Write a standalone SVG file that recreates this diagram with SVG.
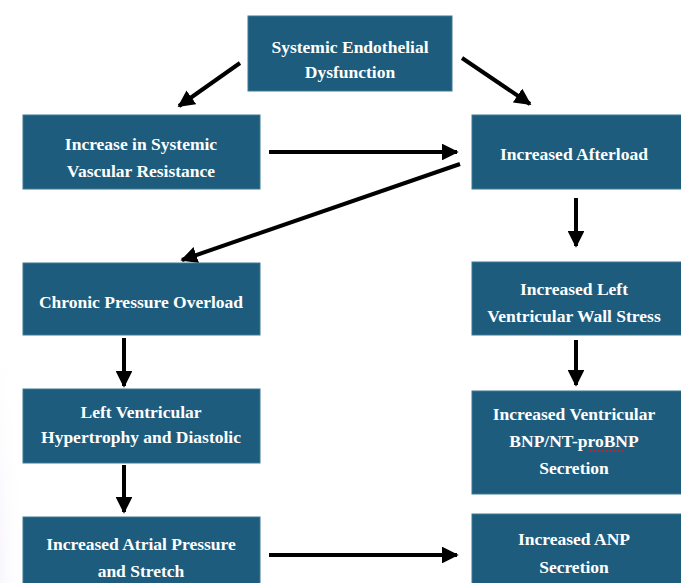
<svg xmlns="http://www.w3.org/2000/svg" width="681" height="583" viewBox="0 0 681 583">
<defs>
<style>
.box{fill:#1d5c7c;stroke:#3f7892;stroke-width:1}
.t{font-family:"Liberation Serif","Times New Roman",serif;font-weight:bold;font-size:17.5px;fill:#ffffff;text-anchor:middle}
.c{stroke:#000;stroke-width:4;fill:none;marker-end:url(#ah)}
</style>
<marker id="ah" viewBox="0 0 10 10" refX="9" refY="5" markerWidth="4.2" markerHeight="4.2" orient="auto" markerUnits="strokeWidth">
<path d="M0,0 L10,5 L0,10 Z" fill="#000"/>
</marker>
<radialGradient id="bg" cx="0" cy="0.75" r="1" gradientTransform="translate(0,0.75) scale(1,1) translate(0,-0.75)">
<stop offset="0" stop-color="#e6ddf0"/>
<stop offset="1" stop-color="#ffffff" stop-opacity="0"/>
</radialGradient>
</defs>
<rect width="681" height="583" fill="#fff"/>
<ellipse cx="0" cy="500" rx="26" ry="150" fill="url(#bg)"/>

<g id="connectors">
<line class="c" x1="240" y1="63" x2="179" y2="106"/>
<line class="c" x1="462" y1="58" x2="530" y2="104"/>
<line class="c" x1="269" y1="152" x2="457" y2="152"/>
<line class="c" x1="460" y1="164" x2="182" y2="260"/>
<line class="c" x1="576" y1="198" x2="576" y2="246"/>
<line class="c" x1="576" y1="340" x2="576" y2="385"/>
<line class="c" x1="124" y1="338" x2="124" y2="386"/>
<line class="c" x1="124" y1="465" x2="124" y2="512"/>
<line class="c" x1="269" y1="555" x2="457" y2="555"/>
</g>

<g id="n1"><rect class="box" x="248" y="16" width="204" height="75"/>
<text class="t" x="350" y="53">Systemic Endothelial</text>
<text class="t" x="350" y="78">Dysfunction</text></g>

<g id="n2"><rect class="box" x="23" y="115" width="237" height="74"/>
<text class="t" x="141" y="150">Increase in Systemic</text>
<text class="t" x="141" y="177">Vascular Resistance</text></g>

<g id="n3"><rect class="box" x="472" y="115" width="215" height="74"/>
<text class="t" x="574" y="160">Increased Afterload</text></g>

<g id="n4"><rect class="box" x="23" y="263" width="237" height="72"/>
<text class="t" x="141" y="308">Chronic Pressure Overload</text></g>

<g id="n5"><rect class="box" x="472" y="262" width="215" height="73"/>
<text class="t" x="574" y="295">Increased Left</text>
<text class="t" x="574" y="322">Ventricular Wall Stress</text></g>

<g id="n6"><rect class="box" x="23" y="389" width="237" height="74"/>
<text class="t" x="141" y="418">Left Ventricular</text>
<text class="t" x="141" y="443">Hypertrophy and Diastolic</text></g>

<g id="n7"><rect class="box" x="472" y="391" width="215" height="103"/>
<text class="t" x="574" y="420">Increased Ventricular</text>
<text class="t" x="574" y="447">BNP/NT-proBNP</text>
<text class="t" x="574" y="474">Secretion</text>
<path d="M588,452 l2,-2 l2,2 l2,-2 l2,2 l2,-2 l2,2 l2,-2 l2,2 l2,-2 l2,2 l2,-2 l2,2 l2,-2 l2,2 l2,-2 l2,2 l2,-2 l2,2" fill="none" stroke="#c0282a" stroke-width="1"/></g>

<g id="n8"><rect class="box" x="23" y="517" width="237" height="70"/>
<text class="t" x="141" y="550">Increased Atrial Pressure</text>
<text class="t" x="141" y="577">and Stretch</text></g>

<g id="n9"><rect class="box" x="472" y="514" width="215" height="73"/>
<text class="t" x="574" y="545">Increased ANP</text>
<text class="t" x="574" y="573">Secretion</text></g>
</svg>
